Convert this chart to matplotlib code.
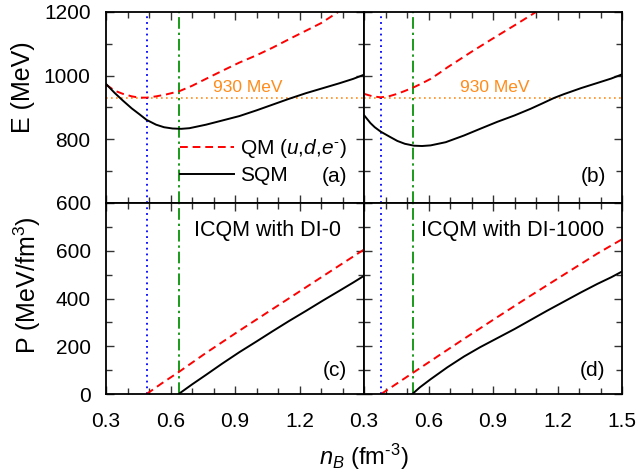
import matplotlib
matplotlib.use("Agg")
import matplotlib.pyplot as plt
from matplotlib.ticker import MultipleLocator, FixedLocator

plt.rcParams['font.family'] = ['Liberation Sans', 'DejaVu Sans']
plt.rcParams['mathtext.fontset'] = 'custom'
plt.rcParams['mathtext.rm'] = 'Liberation Sans'
plt.rcParams['mathtext.it'] = 'Liberation Sans:italic'
plt.rcParams['mathtext.bf'] = 'Liberation Sans:bold'

# ---------------- data ----------------
# Panel (a): DI-0, energy per baryon
n_a_sqm = [0.30, 0.34, 0.378, 0.42, 0.455, 0.489, 0.533, 0.57, 0.61, 0.65, 0.688, 0.765,
           0.84, 0.92, 1.00, 1.075, 1.15, 1.23, 1.31, 1.385, 1.45, 1.50]
E_a_sqm = [974, 946, 922, 897, 879, 861, 846, 838, 834, 833, 835, 846,
           859, 873, 891, 909, 927, 945, 961, 976, 990, 1003]
n_a_qm = [0.30, 0.34, 0.378, 0.42, 0.455, 0.49, 0.533, 0.58, 0.64, 0.70, 0.765, 0.84,
          0.92, 1.00, 1.075, 1.17, 1.25, 1.30, 1.38]
E_a_qm = [972, 953, 943, 935, 931, 931, 935, 941, 951, 968, 990, 1015,
          1041, 1064, 1088, 1121, 1148, 1165, 1200]
# Panel (b): DI-1000, energy per baryon
n_b_sqm = [0.30, 0.33, 0.35, 0.378, 0.42, 0.455, 0.49, 0.533, 0.57, 0.61, 0.68, 0.765,
           0.84, 0.92, 1.00, 1.075, 1.13, 1.184, 1.23, 1.31, 1.385, 1.45, 1.50]
E_b_sqm = [876, 851, 838, 824, 808, 795, 786, 780, 779, 781, 791, 812,
           833, 855, 875, 896, 913, 930, 942, 961, 977, 991, 1004]
n_b_qm = [0.30, 0.34, 0.378, 0.42, 0.455, 0.49, 0.533, 0.57, 0.61, 0.65, 0.69, 0.734,
          0.80, 0.90, 1.00, 1.10]
E_b_qm = [943, 935, 932, 936, 943, 952, 964, 976, 990, 1008, 1027, 1046,
          1075, 1117, 1158, 1200]
# Panel (c): DI-0, pressure
n_c_qm = [0.489, 0.56, 0.64, 0.765, 0.92, 1.075, 1.23, 1.385, 1.50]
P_c_qm = [0, 45, 93, 172, 265, 356, 447, 538, 605]
n_c_sqm = [0.638, 0.70, 0.765, 0.84, 0.92, 1.00, 1.075, 1.15, 1.23, 1.31, 1.385, 1.45, 1.50]
P_c_sqm = [0, 40, 80, 127, 175, 220, 263, 305, 348, 392, 432, 467, 495]
# Panel (d): DI-1000, pressure
n_d_qm = [0.38, 0.533, 0.688, 0.765, 0.92, 1.075, 1.23, 1.385, 1.50]
P_d_qm = [0, 92, 185, 231, 322, 412, 500, 588, 648]
n_d_sqm = [0.525, 0.56, 0.61, 0.688, 0.765, 0.84, 0.92, 1.00, 1.075, 1.15, 1.23, 1.31,
           1.385, 1.45, 1.50]
P_d_sqm = [0, 28, 62, 112, 157, 196, 234, 272, 310, 348, 387, 426, 461, 489, 513]

n_blue = [0.489, 0.378]     # blue dotted lines (left, right)
n_green = [0.638, 0.529]    # green dash-dot lines (left, right)
E_930 = 930
xticks_left = [0.3, 0.6, 0.9, 1.2]
xticks_right = [0.3, 0.6, 0.9, 1.2, 1.5]
yticks_E = [600, 800, 1000, 1200]
yticks_P = [0, 200, 400, 600]
panel_labels = ['(a)', '(b)', '(c)', '(d)']
model_labels = ['ICQM with DI-0', 'ICQM with DI-1000']

RED = '#ff0000'
BLUE = '#0000ff'
GREEN = '#1a9a1a'
ORANGE = '#ff8c1a'

fig = plt.figure(figsize=(6.38, 4.74), dpi=100)
L = 106 / 638
W = 258 / 638
H = 191 / 474
B_top = 1 - 203 / 474
B_bot = 1 - 394 / 474

axa = fig.add_axes([L, B_top, W, H])
axb = fig.add_axes([L + W, B_top, W, H])
axc = fig.add_axes([L, B_bot, W, H])
axd = fig.add_axes([L + W, B_bot, W, H])

dash = (0, (4, 2.5))
lw = 1.4

for ax in (axa, axb, axc, axd):
    ax.set_xlim(0.3, 1.5)
    ax.xaxis.set_minor_locator(MultipleLocator(0.1))
    ax.yaxis.set_minor_locator(MultipleLocator(100))
    ax.tick_params(which='both', direction='in', top=True, right=True, width=1.0,
                   labelsize=15, color='#333333')
    ax.tick_params(which='major', length=6)
    ax.tick_params(which='minor', length=4.5)
    ax.tick_params(axis='x', pad=13)
    ax.tick_params(axis='y', pad=11)
    for s in ax.spines.values():
        s.set_linewidth(1.3)

for ax in (axa, axb):
    ax.set_ylim(600, 1200)
    ax.yaxis.set_major_locator(FixedLocator(yticks_E))
    ax.set_xticks(xticks_right)
    ax.tick_params(labelbottom=False)
    ax.axhline(E_930, color=ORANGE, ls=(0, (1, 2)), lw=1.2)
for ax in (axc, axd):
    ax.set_ylim(0, 800)
    ax.yaxis.set_major_locator(FixedLocator(yticks_P + [800]))
    ax.set_yticklabels([str(v) for v in yticks_P] + [''])

axc.set_xticks(xticks_left + [1.5])
axc.set_xticklabels([f'{v:.1f}' for v in xticks_left] + [''])
axd.set_xticks(xticks_right)
axd.set_xticklabels([f'{v:.1f}' for v in xticks_right])
axb.tick_params(labelleft=False)
axd.tick_params(labelleft=False)

# vertical lines
for ax, nb, ng in ((axa, n_blue[0], n_green[0]), (axc, n_blue[0], n_green[0]),
                   (axb, n_blue[1], n_green[1]), (axd, n_blue[1], n_green[1])):
    ax.axvline(nb, color=BLUE, ls=(0, (1, 2.2)), lw=1.3)
    ax.axvline(ng, color=GREEN, ls=(0, (6, 2, 1.2, 2)), lw=1.4)

# curves
axa.plot(n_a_qm, E_a_qm, color=RED, ls=dash, lw=lw, label=r'QM ($u$,$d$,$e^{\text{-}}$)')
axa.plot(n_a_sqm, E_a_sqm, color='black', lw=lw, label='SQM')
axb.plot(n_b_qm, E_b_qm, color=RED, ls=dash, lw=lw)
axb.plot(n_b_sqm, E_b_sqm, color='black', lw=lw)
axc.plot(n_c_qm, P_c_qm, color=RED, ls=dash, lw=lw)
axc.plot(n_c_sqm, P_c_sqm, color='black', lw=lw)
axd.plot(n_d_qm, P_d_qm, color=RED, ls=dash, lw=lw)
axd.plot(n_d_sqm, P_d_sqm, color='black', lw=lw)

leg = axa.legend(loc='upper left', bbox_to_anchor=(0.285, 0.345), frameon=False,
                 fontsize=15, handlelength=2.6, handletextpad=0.3, labelspacing=0.3,
                 borderpad=0, borderaxespad=0)

# texts
axa.text(0.96, 962, '930 MeV', color=ORANGE, fontsize=12.5, ha='center', va='center')
axb.text(0.91, 962, '930 MeV', color=ORANGE, fontsize=12.5, ha='center', va='center')
for ax, lab, yy in ((axa, panel_labels[0], 683), (axb, panel_labels[1], 683),
                    (axc, panel_labels[2], 100), (axd, panel_labels[3], 100)):
    ax.text(1.365, yy, lab, fontsize=15, ha='center', va='center')
axc.text(1.05, 683, model_labels[0], fontsize=15.5, ha='center', va='center')
axd.text(0.993, 683, model_labels[1], fontsize=15.5, ha='center', va='center')

fig.text(23 / 638, 1 - 87 / 474, 'E (MeV)', rotation=90, fontsize=18,
         ha='center', va='center')
fig.text(27 / 638, 1 - 285 / 474, 'P (MeV/fm$^3$)', rotation=90, fontsize=18,
         ha='center', va='center')
fig.text(364 / 638, 1 - 457 / 474, r'$n_B$ (fm$^{\text{-3}}$)', fontsize=17,
         ha='center', va='center')

fig.savefig('out.png', dpi=100)
